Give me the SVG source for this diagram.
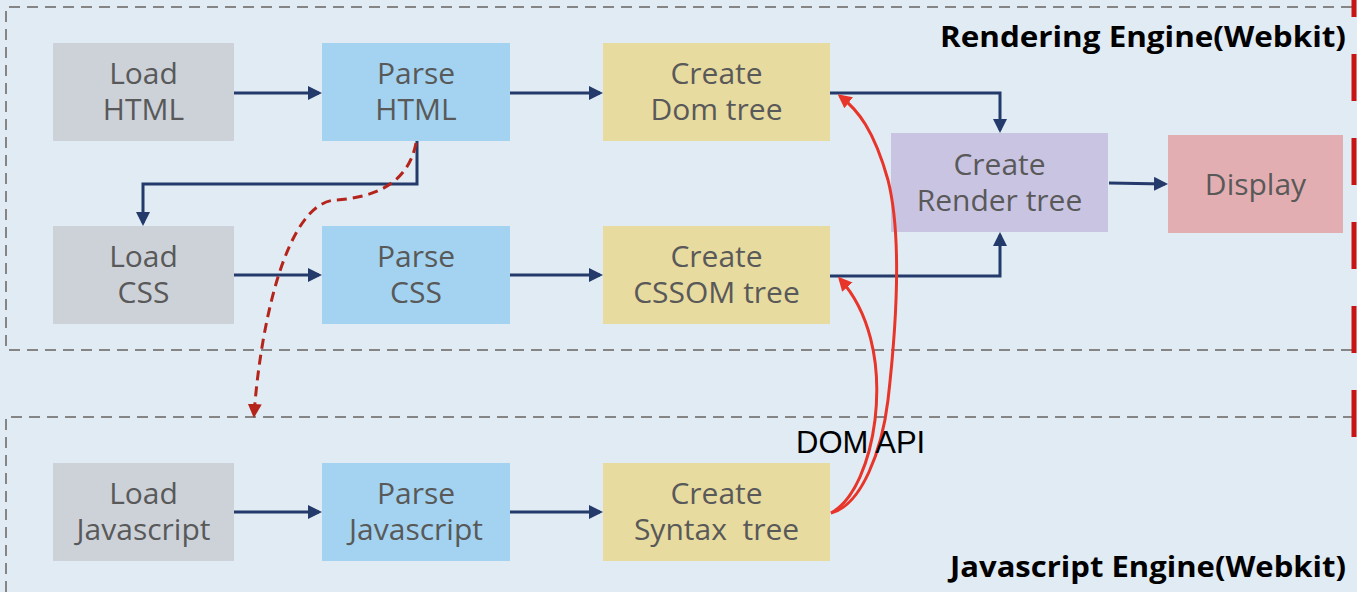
<svg xmlns="http://www.w3.org/2000/svg" width="1357" height="592" viewBox="0 0 1357 592">
<defs>
<style>
.bg{fill:#e1ebf4}
.frame{fill:none;stroke:#858585;stroke-width:2;stroke-dasharray:11 7}
.nt{font-family:"Open Sans","Noto Sans",sans-serif;font-size:30px;fill:#595959;text-anchor:middle}
.title{font-family:"Open Sans","Liberation Sans",sans-serif;font-size:28px;font-weight:700;fill:#000;text-anchor:end}
.lbl{font-family:"Liberation Sans",Arial,sans-serif;font-size:31px;fill:#000}
.gray{fill:#cdd2d9}
.blue{fill:#a3d3f0}
.yel{fill:#e8dba0}
.pur{fill:#c9c4e2}
.pink{fill:#e3aeb1}
.nv{fill:none;stroke:#233a6b;stroke-width:3}
.rs{fill:none;stroke:#e8352a;stroke-width:3}
.rd{fill:none;stroke:#b5241b;stroke-width:3;stroke-dasharray:10 6}
</style>
<marker id="an" markerUnits="userSpaceOnUse" markerWidth="14" markerHeight="14" viewBox="0 0 14 14" refX="11" refY="7" orient="auto"><path d="M0,0 L14,7 L0,14 z" fill="#233a6b"/></marker>
<marker id="ar" markerUnits="userSpaceOnUse" markerWidth="14" markerHeight="14" viewBox="0 0 14 14" refX="11" refY="7" orient="auto"><path d="M0,0 L14,7 L0,14 z" fill="#e8352a"/></marker>
<marker id="ad" markerUnits="userSpaceOnUse" markerWidth="14" markerHeight="14" viewBox="0 0 14 14" refX="11" refY="7" orient="auto"><path d="M0,0 L14,7 L0,14 z" fill="#b5241b"/></marker>
</defs>
<rect class="bg" x="0" y="0" width="1357" height="592"/>
<g id="frames">
<path class="frame" d="M1352,7 H6 V350 H1352"/>
<path class="frame" d="M6,592 V417 H1352"/>
<path d="M1354,-30 V438" stroke="#c81414" stroke-width="5" fill="none" stroke-dasharray="47 37"/>
<text class="title" x="1346" y="47" textLength="406" lengthAdjust="spacingAndGlyphs">Rendering Engine(Webkit)</text>
<text class="title" x="1346" y="577" textLength="396" lengthAdjust="spacingAndGlyphs">Javascript Engine(Webkit)</text>
</g>
<g id="load-html"><rect class="gray" x="53" y="43" width="181" height="98"/><text class="nt" x="143.5" y="84">Load<tspan x="143.5" dy="36">HTML</tspan></text></g>
<g id="parse-html"><rect class="blue" x="322" y="43" width="188" height="98"/><text class="nt" x="416" y="84">Parse<tspan x="416" dy="36">HTML</tspan></text></g>
<g id="create-dom"><rect class="yel" x="603" y="43" width="227" height="98"/><text class="nt" x="716.5" y="84">Create<tspan x="716.5" dy="36">Dom tree</tspan></text></g>
<g id="create-render"><rect class="pur" x="891" y="133" width="217" height="99"/><text class="nt" x="999.5" y="175">Create<tspan x="999.5" dy="36">Render tree</tspan></text></g>
<g id="display"><rect class="pink" x="1168" y="135" width="175" height="98"/><text class="nt" x="1255.5" y="195">Display</text></g>
<g id="load-css"><rect class="gray" x="53" y="226" width="181" height="98"/><text class="nt" x="143.5" y="267">Load<tspan x="143.5" dy="36">CSS</tspan></text></g>
<g id="parse-css"><rect class="blue" x="322" y="226" width="188" height="98"/><text class="nt" x="416" y="267">Parse<tspan x="416" dy="36">CSS</tspan></text></g>
<g id="create-cssom"><rect class="yel" x="603" y="226" width="227" height="98"/><text class="nt" x="716.5" y="267">Create<tspan x="716.5" dy="36">CSSOM tree</tspan></text></g>
<g id="load-js"><rect class="gray" x="53" y="463" width="181" height="98"/><text class="nt" x="143.5" y="504">Load<tspan x="143.5" dy="36">Javascript</tspan></text></g>
<g id="parse-js"><rect class="blue" x="322" y="463" width="188" height="98"/><text class="nt" x="416" y="504">Parse<tspan x="416" dy="36">Javascript</tspan></text></g>
<g id="create-syntax"><rect class="yel" x="603" y="463" width="227" height="98"/><text class="nt" x="716.5" y="504" xml:space="preserve">Create<tspan x="716.5" dy="36">Syntax  tree</tspan></text></g>
<g id="connectors">
<path class="nv" marker-end="url(#an)" d="M234,93 H319"/>
<path class="nv" marker-end="url(#an)" d="M510,93 H600"/>
<path class="nv" marker-end="url(#an)" d="M830,93 H1000 V130"/>
<path class="nv" marker-end="url(#an)" d="M417,141 V184 H143 V223"/>
<path class="nv" marker-end="url(#an)" d="M234,275 H319"/>
<path class="nv" marker-end="url(#an)" d="M510,275 H600"/>
<path class="nv" marker-end="url(#an)" d="M830,276 H1000 V235"/>
<path class="nv" marker-end="url(#an)" d="M1109,183 L1165,184"/>
<path class="nv" marker-end="url(#an)" d="M234,512 H319"/>
<path class="nv" marker-end="url(#an)" d="M510,512 H600"/>
<path class="rd" marker-end="url(#ad)" d="M416,143 C408,185 372,198 335,200 C285,204 260,330 254,415"/>
<path class="rs" marker-end="url(#ar)" d="M831,513 C862,505 882,450 888,400 C896,330 903,240 888,180 C874,130 858,110 840,96"/>
<path class="rs" marker-end="url(#ar)" d="M831,513 C855,500 870,460 875,420 C882,360 868,310 840,279"/>
<text class="lbl" x="796" y="453">DOM API</text>
</g>
</svg>
